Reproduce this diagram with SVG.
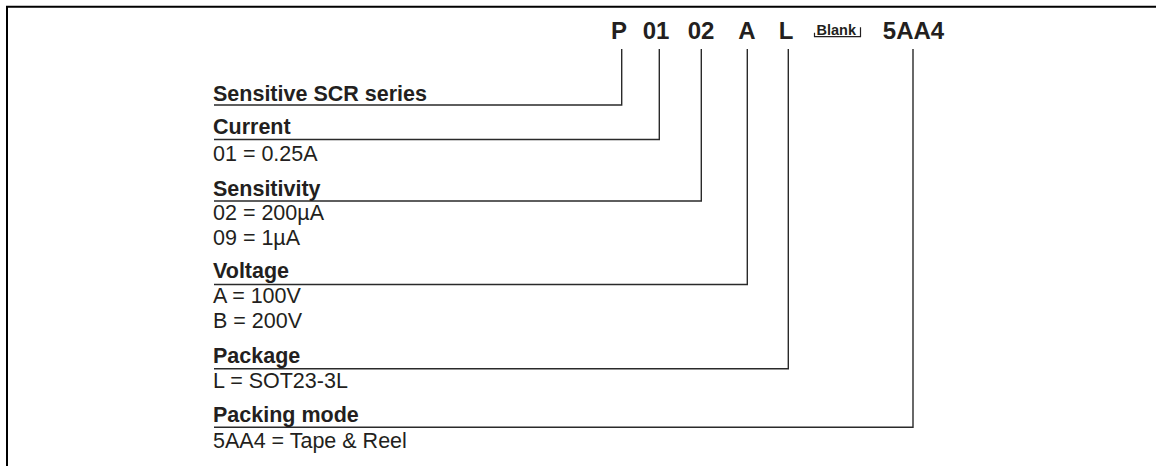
<svg xmlns="http://www.w3.org/2000/svg" width="1156" height="466" viewBox="0 0 1156 466">
<style>
.code{font-family:"Liberation Sans",Arial,sans-serif;font-weight:bold;font-size:24px;fill:#231f20;text-anchor:middle}
.title{font-family:"Liberation Sans",Arial,sans-serif;font-weight:bold;font-size:21.5px;fill:#231f20}
.val{font-family:"Liberation Sans",Arial,sans-serif;font-size:21.5px;fill:#231f20}
.blank{font-family:"Liberation Sans",Arial,sans-serif;font-weight:bold;font-size:14.5px;fill:#231f20}
.conn{fill:none;stroke:#2a2a2a;stroke-width:1.4}
</style>
<rect width="1156" height="466" fill="#fff"/>
<path d="M7,466 V6.7 H1156" fill="none" stroke="#000" stroke-width="2"/>
<g id="code">
<text class="code" x="619" y="39">P</text>
<text class="code" x="656" y="39">01</text>
<text class="code" x="701" y="39">02</text>
<text class="code" x="747" y="39">A</text>
<text class="code" x="786" y="39">L</text>
<text class="blank" x="816.5" y="35">Blank</text>
<path d="M814.5,32.7 V36.7 H860.5 V27.3" fill="none" stroke="#231f20" stroke-width="1.2"/>
<text class="code" x="913.5" y="39">5AA4</text>
</g>
<g id="connectors">
<path class="conn" d="M621.7,49 V105 H214"/>
<path class="conn" d="M659.3,49 V139.5 H214"/>
<path class="conn" d="M701.3,49 V201 H214"/>
<path class="conn" d="M747.3,49 V284.5 H214"/>
<path class="conn" d="M788.3,49 V368.7 H214"/>
<path class="conn" d="M913,49 V427.3 H214"/>
</g>
<g id="series">
<text class="title" x="213" y="100.5">Sensitive SCR series</text>
</g>
<g id="current">
<text class="title" x="213" y="134">Current</text>
<text class="val" x="213" y="160.7">01 = 0.25A</text>
</g>
<g id="sensitivity">
<text class="title" x="213" y="195.5">Sensitivity</text>
<text class="val" x="213" y="220">02 = 200µA</text>
<text class="val" x="213" y="245">09 = 1µA</text>
</g>
<g id="voltage">
<text class="title" x="213" y="277.5">Voltage</text>
<text class="val" x="213" y="303.3">A = 100V</text>
<text class="val" x="213" y="328.3">B = 200V</text>
</g>
<g id="package">
<text class="title" x="213" y="363.3">Package</text>
<text class="val" x="213" y="388.3">L = SOT23-3L</text>
</g>
<g id="packing">
<text class="title" x="213" y="421.7">Packing mode</text>
<text class="val" x="213" y="448.3">5AA4 = Tape &amp; Reel</text>
</g>
</svg>
